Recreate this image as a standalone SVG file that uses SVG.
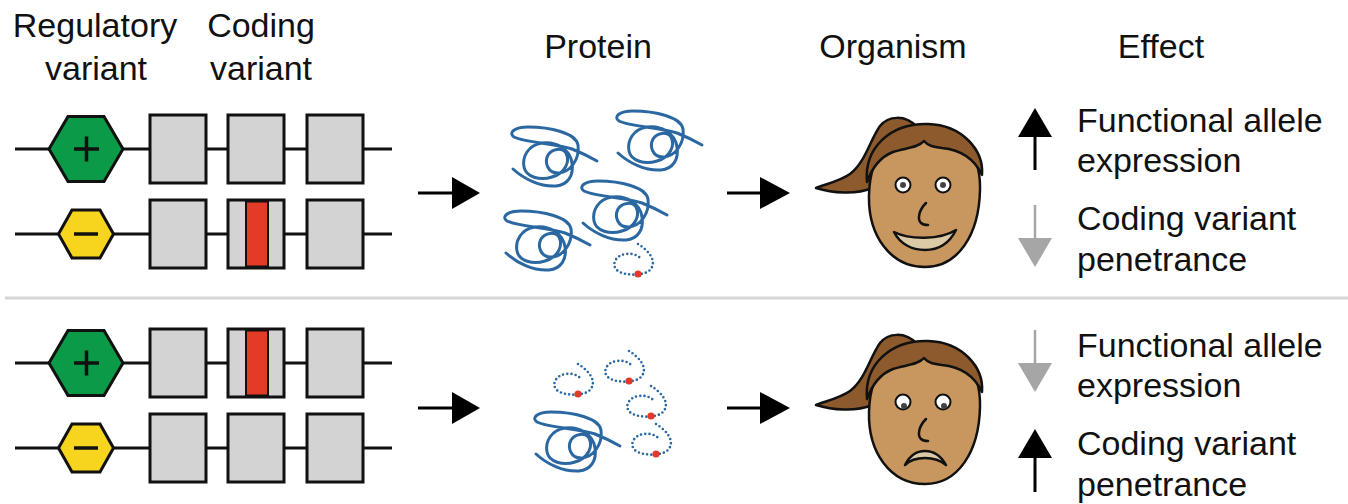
<svg xmlns="http://www.w3.org/2000/svg" xmlns:xlink="http://www.w3.org/1999/xlink" width="1348" height="504" viewBox="0 0 1348 504">
  <style>
    .lbl { font-family: "Liberation Sans", Arial, sans-serif; font-size: 34px; fill: #111; }
    .mid { text-anchor: middle; }
    .dna { stroke: #111; stroke-width: 3; fill: none; }
    .exon { fill: #d3d3d3; stroke: #111; stroke-width: 3; }
    .mut { fill: #e23b27; stroke: #111; stroke-width: 2; }
    .up { fill: #0b9a47; stroke: #111; stroke-width: 3; }
    .down { fill: #f7d51f; stroke: #111; stroke-width: 3; }
    .sign { stroke: #111; stroke-width: 3.5; fill: none; }
    .flow { stroke: #000; stroke-width: 3; fill: none; }
    .tangle { stroke: #2b68a1; stroke-width: 3; fill: none; stroke-linecap: round; }
    .unfold { stroke: #2b68a1; stroke-width: 2.6; fill: none; stroke-linecap: round; stroke-dasharray: 0 4.2; }
    .site { fill: #e4392a; }
    .skin { fill: #c8965f; stroke: #111; stroke-width: 2.5; }
    .hair { fill: #8c5a2c; stroke: #111; stroke-width: 2.5; stroke-linejoin: round; }
    .eye { fill: #fff; stroke: #111; stroke-width: 2; }
    .pupil { fill: #444; }
    .line { stroke: #111; stroke-width: 2.5; fill: none; stroke-linecap: round; }
    .mouth { fill: #dccaa6; stroke: #111; stroke-width: 2.5; stroke-linejoin: round; }
  </style>
  <defs>
    <!-- folded protein chain, local box about 87 x 64 -->
    <path id="fold" class="tangle" d="M 3,46 C 14,56 30,64 46,63 C 58,62 64,52 62,40 C 60,26 46,18 32,20 C 18,22 12,34 14,44 C 16,54 30,58 42,54 C 56,50 60,38 56,30 C 52,24 42,26 38,32 C 34,40 38,50 48,50 C 60,50 70,36 68,22 C 66,10 40,4 18,4 C 4,4 -2,10 4,14 C 16,20 45,20 62,26 C 72,30 80,34 87,38"/>
    <!-- unfolded chain with a mutated residue -->
    <g id="loose">
      <path class="unfold" d="M 26,1 C 36,7 46,18 38,27 C 32,33 14,33 6,28 C -2,22 4,12 14,11 C 20,10 26,12 29,16"/>
      <circle class="site" cx="26" cy="31" r="3.6"/>
    </g>
  </defs>

  <rect width="1348" height="504" fill="#fff"/>

  <!-- column headings -->
  <g id="headings">
    <text class="lbl mid" x="95" y="37">Regulatory</text>
    <text class="lbl mid" x="96" y="80">variant</text>
    <text class="lbl mid" x="261" y="37">Coding</text>
    <text class="lbl mid" x="261" y="80">variant</text>
    <text class="lbl mid" x="598" y="58">Protein</text>
    <text class="lbl mid" x="893" y="58">Organism</text>
    <text class="lbl mid" x="1161" y="58">Effect</text>
  </g>

  <!-- top case: strong regulatory allele on the functional copy -->
  <g id="gene-top-1">
    <line class="dna" x1="15" y1="149" x2="392" y2="149"/>
    <polygon class="up" points="49,149 68,116.5 104,116.5 123,149 104,181.5 68,181.5"/>
    <path class="sign" d="M74,149 H99 M86.5,136.5 V161.5"/>
    <rect class="exon" x="150" y="115" width="56" height="68"/>
    <rect class="exon" x="228" y="115" width="56" height="68"/>
    <rect class="exon" x="307" y="115" width="56" height="68"/>
  </g>
  <g id="gene-top-2">
    <line class="dna" x1="15" y1="234" x2="392" y2="234"/>
    <polygon class="down" points="58.5,234 72,210 100,210 113.5,234 100,258 72,258"/>
    <path class="sign" d="M74,234 H98"/>
    <rect class="exon" x="150" y="200" width="56" height="68"/>
    <rect class="exon" x="228" y="200" width="56" height="68"/>
    <rect class="mut" x="246" y="201.5" width="22" height="65"/>
    <rect class="exon" x="307" y="200" width="56" height="68"/>
  </g>

  <!-- bottom case: strong regulatory allele on the mutated copy -->
  <g id="gene-bottom-1">
    <line class="dna" x1="15" y1="363" x2="392" y2="363"/>
    <polygon class="up" points="49,363 68,330.5 104,330.5 123,363 104,395.5 68,395.5"/>
    <path class="sign" d="M74,363 H99 M86.5,350.5 V375.5"/>
    <rect class="exon" x="150" y="329" width="56" height="68"/>
    <rect class="exon" x="228" y="329" width="56" height="68"/>
    <rect class="mut" x="246" y="330.5" width="22" height="65"/>
    <rect class="exon" x="307" y="329" width="56" height="68"/>
  </g>
  <g id="gene-bottom-2">
    <line class="dna" x1="15" y1="448" x2="392" y2="448"/>
    <polygon class="down" points="58.5,448 72,424 100,424 113.5,448 100,472 72,472"/>
    <path class="sign" d="M74,448 H98"/>
    <rect class="exon" x="150" y="414" width="56" height="68"/>
    <rect class="exon" x="228" y="414" width="56" height="68"/>
    <rect class="exon" x="307" y="414" width="56" height="68"/>
  </g>

  <!-- protein pools -->
  <g id="protein-top">
    <use xlink:href="#fold" transform="translate(510,123)"/>
    <use xlink:href="#fold" transform="translate(615,107)"/>
    <use xlink:href="#fold" transform="translate(580,177)"/>
    <use xlink:href="#fold" transform="translate(503,207)"/>
    <use xlink:href="#loose" transform="translate(612,243)"/>
  </g>
  <g id="protein-bottom">
    <use xlink:href="#loose" transform="translate(552,363)"/>
    <use xlink:href="#loose" transform="translate(603,350)"/>
    <use xlink:href="#loose" transform="translate(625,385)"/>
    <use xlink:href="#loose" transform="translate(630,423)"/>
    <use xlink:href="#fold" transform="translate(533,408)"/>
  </g>

  <!-- happy organism -->
  <g id="organism-top">
    <path class="hair" d="M 917,127 C 905,114 888,116 880,126 C 870,140 865,163 850,174 C 840,181 826,184 816,188 C 832,193 856,195 872,188 Z"/>
    <path class="skin" d="M 925,267 C 890,267 868,235 869,195 C 870,150 895,128 925,128 C 958,128 981,150 980,190 C 979,235 958,267 925,267 Z"/>
    <path class="hair" d="M 867,182 C 864,148 890,123 928,124 C 962,125 984,150 982,175 C 975,160 962,150 942,148 C 934,147 928,146 924,141 C 918,148 905,148 893,152 C 880,157 872,168 867,182 Z"/>
    <circle class="eye" cx="903" cy="185" r="7.5"/>
    <circle class="pupil" cx="903" cy="185" r="3"/>
    <circle class="eye" cx="943" cy="185" r="7.5"/>
    <circle class="pupil" cx="943" cy="185" r="3"/>
    <path class="line" d="M 926,203 C 919,210 917,219 921,223 C 923,225 926,225 928,225"/>
    <path class="mouth" d="M 894,232 C 910,240 940,240 956,230 C 948,246 935,250 925,250 C 912,250 900,244 894,232 Z"/>
  </g>

  <!-- unhappy organism -->
  <g id="organism-bottom">
    <g transform="translate(0,217)">
      <path class="hair" d="M 917,127 C 905,114 888,116 880,126 C 870,140 865,163 850,174 C 840,181 826,184 816,188 C 832,193 856,195 872,188 Z"/>
      <path class="skin" d="M 925,267 C 890,267 868,235 869,195 C 870,150 895,128 925,128 C 958,128 981,150 980,190 C 979,235 958,267 925,267 Z"/>
      <path class="hair" d="M 867,182 C 864,148 890,123 928,124 C 962,125 984,150 982,175 C 975,160 962,150 942,148 C 934,147 928,146 924,141 C 918,148 905,148 893,152 C 880,157 872,168 867,182 Z"/>
      <circle class="eye" cx="903" cy="185" r="7.5"/>
      <circle class="pupil" cx="904" cy="189" r="3"/>
      <circle class="eye" cx="943" cy="185" r="7.5"/>
      <circle class="pupil" cx="944" cy="189" r="3"/>
      <path class="line" d="M 926,202 C 919,209 917,218 921,222 C 923,224 926,224 928,224"/>
      <path class="mouth" d="M 905,248 C 910,238 918,234 925,234 C 934,234 941,239 946,248 C 940,243 932,241 925,241 C 917,241 910,243 905,248 Z"/>
    </g>
  </g>

  <!-- effect labels -->
  <g id="effect-top">
    <polygon points="1018,137 1035,108 1052,137" fill="#000"/>
    <line x1="1035" y1="135" x2="1035" y2="170" stroke="#000" stroke-width="3"/>
    <line x1="1035" y1="205" x2="1035" y2="240" stroke="#a6a6a6" stroke-width="2.5"/>
    <polygon points="1018,238 1052,238 1035,267" fill="#a6a6a6"/>
    <text class="lbl" x="1077" y="132">Functional allele</text>
    <text class="lbl" x="1077" y="172">expression</text>
    <text class="lbl" x="1077" y="230">Coding variant</text>
    <text class="lbl" x="1077" y="271">penetrance</text>
  </g>
  <g id="effect-bottom">
    <line x1="1035" y1="330" x2="1035" y2="365" stroke="#a6a6a6" stroke-width="2.5"/>
    <polygon points="1018,363 1052,363 1035,392" fill="#a6a6a6"/>
    <polygon points="1018,458 1035,429 1052,458" fill="#000"/>
    <line x1="1035" y1="456" x2="1035" y2="492" stroke="#000" stroke-width="3"/>
    <text class="lbl" x="1077" y="357">Functional allele</text>
    <text class="lbl" x="1077" y="397">expression</text>
    <text class="lbl" x="1077" y="455">Coding variant</text>
    <text class="lbl" x="1077" y="496">penetrance</text>
  </g>

  <!-- connectors -->
  <g id="connectors">
    <line x1="5" y1="298" x2="1348" y2="298" stroke="#d6d6d6" stroke-width="3"/>
    <line class="flow" x1="418" y1="193" x2="453" y2="193"/>
    <polygon points="452,177 480,193 452,209"/>
    <line class="flow" x1="727" y1="193" x2="761" y2="193"/>
    <polygon points="760,177 790,193 760,209"/>
    <line class="flow" x1="418" y1="408" x2="453" y2="408"/>
    <polygon points="452,392 480,408 452,424"/>
    <line class="flow" x1="727" y1="408" x2="761" y2="408"/>
    <polygon points="760,392 790,408 760,424"/>
  </g>
</svg>
